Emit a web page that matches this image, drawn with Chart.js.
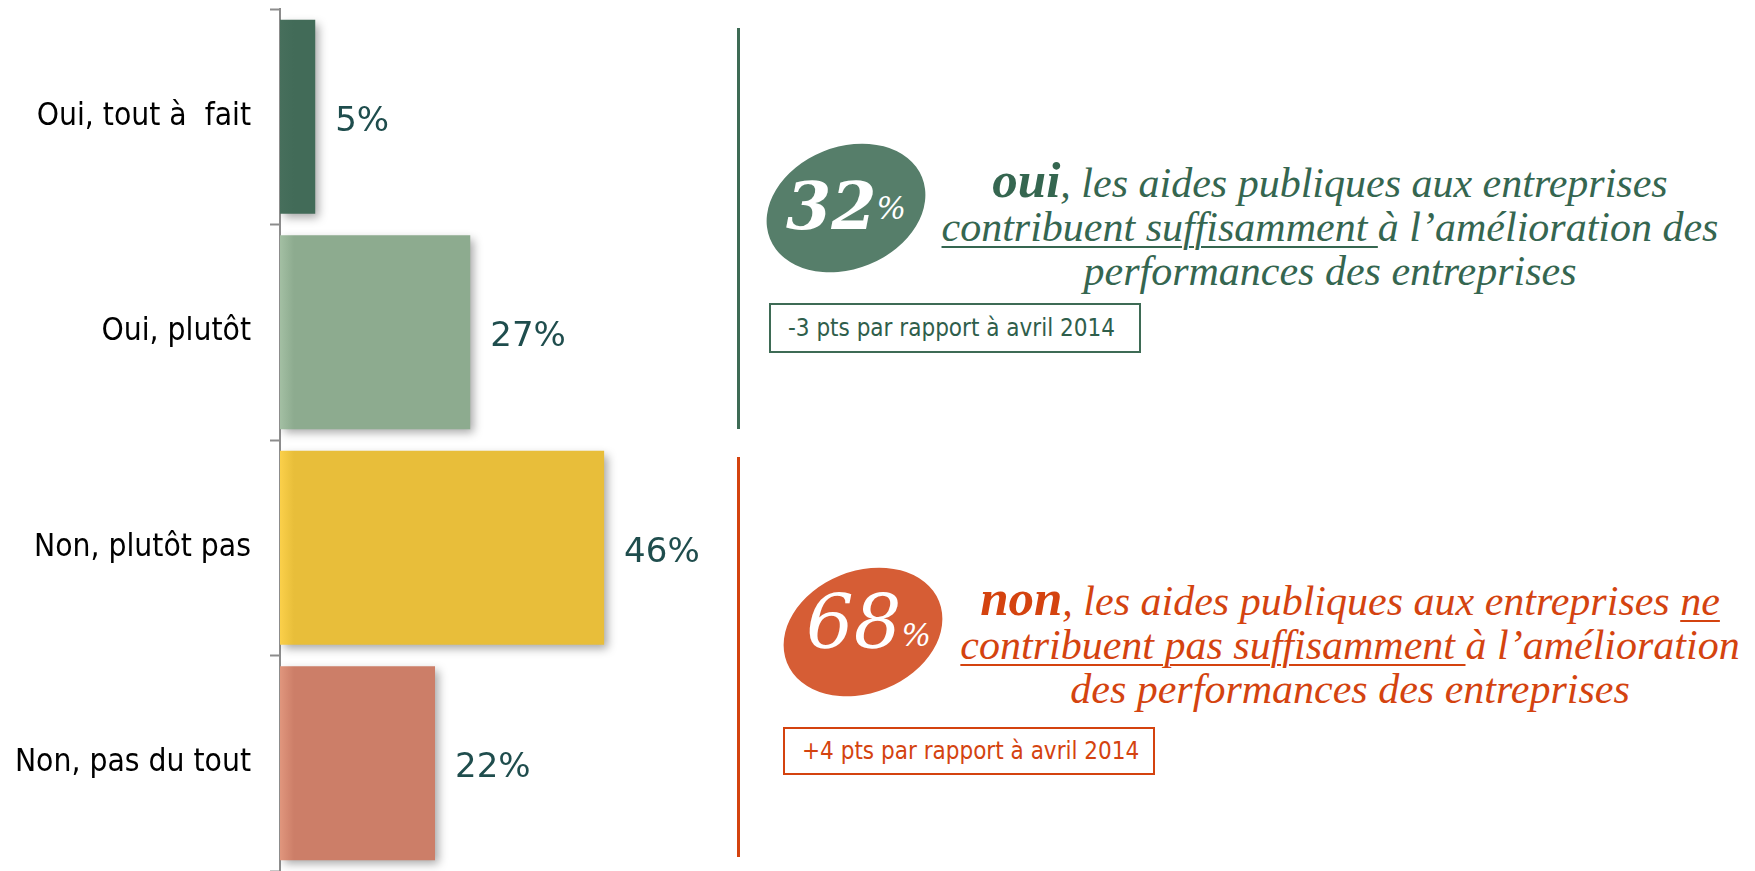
<!DOCTYPE html>
<html lang="fr">
<head>
<meta charset="utf-8">
<script src="https://cdn.jsdelivr.net/npm/chart.js@4/dist/chart.umd.min.js"></script>
<style>
  html, body { margin:0; padding:0; background:#fff; }
  body { width:1755px; height:871px; position:relative; overflow:hidden; }
  #chartBox { position:absolute; left:0; top:0; width:738px; height:871px; }
  .vline { position:absolute; width:3px; }
  .ellipse { position:absolute; border-radius:50%; transform:rotate(-22deg); }
  .big { position:absolute; color:#fff; font-family:'DejaVu Serif', serif; font-style:italic; line-height:1; white-space:nowrap; }
  .big .pct { font-size:31px; font-weight:normal; position:relative; }
  .para { position:absolute; text-align:center; font-family:'Liberation Serif', 'Times New Roman', serif; font-style:italic; font-size:42px; white-space:nowrap; }
  .para b { font-size:51px; font-weight:bold; }
  .u { text-decoration:underline; text-decoration-thickness:1.5px; text-underline-offset:5px; }
  .box { position:absolute; box-sizing:border-box; border:2px solid; font-family:'DejaVu Sans Condensed','DejaVu Sans',sans-serif; font-size:24px; padding-left:17px; white-space:nowrap; }
</style>
</head>
<body>
<div id="chartBox"><canvas id="c" width="738" height="871"></canvas></div>

<div class="vline" style="left:737px; top:28px; height:401px; background:#3E6B55;"></div>
<div class="vline" style="left:737px; top:457px; height:400px; background:#D4430F;"></div>

<div class="ellipse" style="left:763.5px; top:146.5px; width:164px; height:122px; background:#567E6A;"></div>
<div class="big" id="ouiBig" style="left:786px; top:174px; font-size:65px; font-weight:bold;"></div>

<div class="ellipse" style="left:781px; top:570.5px; width:164px; height:122px; background:#D65D35;"></div>
<div class="big" id="nonBig" style="left:806px; top:585px; font-size:75px; font-weight:normal;"></div>

<div class="para" style="left:880px; top:158px; width:900px; line-height:44px; color:#356650;">
  <b>oui</b>, les aides publiques aux entreprises<br>
  <span class="u">contribuent suffisamment </span>à l’amélioration des<br>
  performances des entreprises
</div>

<div class="para" style="left:900px; top:576px; width:900px; line-height:44px; color:#D4430F;">
  <b>non</b>, les aides publiques aux entreprises <span class="u">ne</span><br>
  <span class="u">contribuent pas suffisamment </span>à l’amélioration<br>
  des performances des entreprises
</div>

<div class="box" id="ouiBox" style="left:769px; top:303px; width:372px; height:50px; line-height:46px; border-color:#3E6B55; color:#2F5E4B;"></div>
<div class="box" id="nonBox" style="left:783px; top:727px; width:372px; height:48px; line-height:44px; border-color:#D4430F; color:#D4430F;"></div>

<script>
// ---- data ----
const categories = ['Oui, tout à  fait', 'Oui, plutôt', 'Non, plutôt pas', 'Non, pas du tout'];
const values = [5, 27, 46, 22];
const barColors = ['#426B58', '#8DAB8F', '#E8BE3A', '#CC7E68'];
const barEdgeColors = ['#476F5C', '#A3BFA3', '#FBD04A', '#E0967D'];
const evolutionLabels = ['-3 pts par rapport à avril 2014', '+4 pts par rapport à avril 2014'];

// ---- derived totals ----
const ouiTotal = values[0] + values[1];
const nonTotal = values[2] + values[3];
document.getElementById('ouiBig').innerHTML = ouiTotal + '<span class="pct" style="top:-10px;">%</span>';
document.getElementById('nonBig').innerHTML = nonTotal + '<span class="pct" style="top:-2px;">%</span>';
document.getElementById('ouiBox').textContent = evolutionLabels[0];
document.getElementById('nonBox').textContent = evolutionLabels[1];

const barShadow = {
  id: 'barShadow',
  beforeDatasetsDraw(chart) {
    const ctx = chart.ctx;
    ctx.save();
    ctx.shadowColor = 'rgba(0,0,0,0.35)';
    ctx.shadowBlur = 9;
    ctx.shadowOffsetX = 4;
    ctx.shadowOffsetY = 4;
  },
  afterDatasetsDraw(chart) {
    chart.ctx.restore();
  }
};

const valueLabels = {
  id: 'valueLabels',
  afterDatasetsDraw(chart) {
    const ctx = chart.ctx;
    const meta = chart.getDatasetMeta(0);
    ctx.save();
    ctx.font = '34px "DejaVu Sans", sans-serif';
    ctx.fillStyle = '#1F4D4D';
    ctx.textAlign = 'left';
    ctx.textBaseline = 'middle';
    meta.data.forEach((bar, i) => {
      ctx.fillText(values[i] + '%', bar.x + 20, bar.y + 5);
    });
    ctx.restore();
  }
};

function barFill(c) {
  const i = c.dataIndex;
  const area = c.chart.chartArea;
  if (!area) return barColors[i];
  const g = c.chart.ctx.createLinearGradient(area.left, 0, area.left + 14, 0);
  g.addColorStop(0, barEdgeColors[i]);
  g.addColorStop(1, barColors[i]);
  return g;
}

new Chart(document.getElementById('c'), {
  type: 'bar',
  data: {
    labels: categories,
    datasets: [{
      data: values,
      backgroundColor: barFill,
      borderWidth: 0,
      barPercentage: 0.9,
      categoryPercentage: 1
    }]
  },
  options: {
    indexAxis: 'y',
    responsive: false,
    animation: false,
    layout: { padding: { top: 9, right: 0, bottom: 0, left: 0 } },
    plugins: { legend: { display: false }, tooltip: { enabled: false } },
    scales: {
      x: { display: false, min: 0, max: 65 },
      y: {
        afterFit: (s) => { s.width = 280; s.paddingTop = 0; s.paddingBottom = 0; },
        grid: { display: true, drawOnChartArea: false, drawTicks: true, tickLength: 10, tickColor: '#8C8C8C', tickWidth: 2, offset: true },
        border: { display: true, color: '#8C8C8C', width: 2 },
        ticks: { color: '#000', font: { family: '"DejaVu Sans Condensed", "DejaVu Sans", sans-serif', size: 31.5 }, padding: 19 }
      }
    }
  },
  plugins: [barShadow, valueLabels]
});
</script>
</body>
</html>
